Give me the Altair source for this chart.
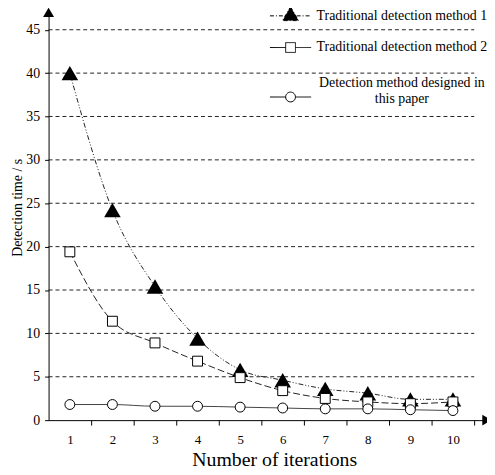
import altair as alt
import pandas as pd

iterations = [1, 2, 3, 4, 5, 6, 7, 8, 9, 10]
method1 = [40.0, 24.2, 15.4, 9.4, 5.8, 4.6, 3.6, 3.1, 2.4, 2.4]
method2 = [19.4, 11.4, 8.9, 6.8, 4.9, 3.4, 2.5, 2.1, 1.9, 2.1]
method3 = [1.8, 1.8, 1.6, 1.6, 1.5, 1.4, 1.3, 1.3, 1.2, 1.1]
names = ["Traditional detection method 1", "Traditional detection method 2",
         "Detection method designed in this paper"]
y_ticks = [0, 5, 10, 15, 20, 25, 30, 35, 40, 45]
grid_values = [5, 10, 15, 20, 25, 30, 35, 40, 45]
# x ticks sit between iterations; labels are shifted back onto the iterations
x_tick_values = [1.5, 2.5, 3.5, 4.5, 5.5, 6.5, 7.5, 8.5, 9.5, 10.5]
x_min, x_max = 0.5, 10.8
y_min, y_max = 0, 47
grid_start, grid_end = 0.5, 10.5

FONT = "Liberation Serif"
W, H = 443, 412
half_step_px = W / (x_max - x_min) / 2

df = pd.DataFrame({
    "it": iterations * 3,
    "t": method1 + method2 + method3,
    "series": [names[0]] * 10 + [names[1]] * 10 + [names[2]] * 10,
})
grid_df = pd.DataFrame({"g": grid_values, "x0": [grid_start] * len(grid_values),
                        "x1": [grid_end] * len(grid_values)})
yarrow_df = pd.DataFrame({"it": [x_min], "t": [y_max]})
xarrow_df = pd.DataFrame({"it": [x_max], "t": [y_min]})

xscale = alt.Scale(domain=[x_min, x_max], nice=False, zero=False)
yscale = alt.Scale(domain=[y_min, y_max], nice=False)

xaxis = alt.Axis(
    values=x_tick_values,
    labelExpr="format(datum.value - 0.5, 'd')",
    labelOffset=-half_step_px, labelFlush=False, labelOverlap=False,
    tickSize=5, tickWidth=1, tickColor="black", domainColor="black", domainWidth=1,
    labelFont=FONT, labelFontSize=13, labelColor="black", labelPadding=9,
    grid=False, title="Number of iterations", titleFont=FONT, titleFontSize=20,
    titleFontWeight="normal", titleColor="black", titleX=228, titleY=46,
    titleBaseline="alphabetic",
)
yaxis = alt.Axis(
    values=y_ticks, tickSize=4, tickColor="black", domainColor="black", domainWidth=1,
    labelFont=FONT, labelFontSize=14, labelColor="black", labelPadding=5,
    grid=False, title="Detection time / s", titleFont=FONT, titleFontSize=14,
    titleFontWeight="normal", titleColor="black", titleX=-24, titleY=197,
    titleBaseline="bottom",
)

X = lambda f="it": alt.X(f"{f}:Q", scale=xscale, axis=xaxis)
Y = lambda f="t": alt.Y(f"{f}:Q", scale=yscale, axis=yaxis)

grid = alt.Chart(grid_df).mark_rule(color="#222", strokeDash=[4, 3], strokeWidth=1).encode(
    x=X("x0"), x2="x1", y=Y("g"))

def series(i):
    return alt.Chart(df).transform_filter(alt.datum.series == names[i])

line1 = series(0).mark_line(interpolate="monotone", color="#222", strokeWidth=1,
                            strokeDash=[5, 2, 1, 2, 1, 2]).encode(x=X(), y=Y())
line2 = series(1).mark_line(interpolate="monotone", color="#222", strokeWidth=1,
                            strokeDash=[7, 3]).encode(x=X(), y=Y())
line3 = series(2).mark_line(interpolate="monotone", color="#444", strokeWidth=1).encode(x=X(), y=Y())

pts1 = series(0).mark_point(shape="triangle-up", filled=True, color="black", size=280,
                            opacity=1).encode(x=X(), y=Y())
pts2 = series(1).mark_point(shape="square", filled=True, fill="white", stroke="black",
                            strokeWidth=1, size=100, opacity=1).encode(x=X(), y=Y())
pts3 = series(2).mark_point(shape="circle", filled=True, fill="white", stroke="black",
                            strokeWidth=1, size=100, opacity=1).encode(x=X(), y=Y())

yarrow = alt.Chart(yarrow_df).mark_point(shape="triangle-up", filled=True, color="black",
                                         size=121, opacity=1, clip=False).encode(x=X(), y=Y())
xarrow = alt.Chart(xarrow_df).mark_point(shape="triangle-right", filled=True, color="black",
                                         size=121, opacity=1, clip=False).encode(x=X(), y=Y())

# legend symbols: line segment with marker (unit = 8 px at symbolSize 256)
tri_path = "M-2.6,0L2.6,0M0,-1.15L1.0,0.6L-1.0,0.6Z"
sq_path = "M-2.6,0L-0.62,0M0.62,0L2.6,0M-0.62,-0.62L0.62,-0.62L0.62,0.62L-0.62,0.62Z"
ci_path = ("M-2.6,0L-0.62,0M0.62,0L2.6,0M-0.62,0A0.62,0.62 0 1,0 0.62,0"
           "A0.62,0.62 0 1,0 -0.62,0Z")
empty_path = "M0,0"

LEG_X = 236
legA = alt.Legend(title=None, orient="none", legendX=LEG_X, legendY=-5)
legB = alt.Legend(title=None, orient="none", legendX=LEG_X, legendY=77, labelExpr="''")
legT = alt.Legend(title=None, orient="none", legendX=LEG_X, legendY=63,
                  labelExpr="['Detection method designed in', 'this paper']")

def legend_layer(dom, paths, fills, dashes, leg):
    return alt.Chart(df).transform_filter("false").mark_point(strokeWidth=1).encode(
        x=X(), y=Y(),
        shape=alt.Shape("series:N", scale=alt.Scale(domain=dom, range=paths), legend=leg),
        fill=alt.Fill("series:N", scale=alt.Scale(domain=dom, range=fills), legend=leg),
        stroke=alt.Stroke("series:N", scale=alt.Scale(domain=dom, range=["black"] * len(dom)), legend=leg),
        strokeDash=alt.StrokeDash("series:N", scale=alt.Scale(domain=dom, range=dashes), legend=leg),
    )

legend_a = legend_layer(names[:2], [tri_path, sq_path], ["black", "white"],
                        [[4, 2, 1, 2], [1, 0]], legA)
legend_b = legend_layer(names[2:], [ci_path], ["white"], [[1, 0]], legB)
legend_t = alt.Chart(df).transform_filter("false").mark_point().encode(
    x=X(), y=Y(),
    shape=alt.Shape("series:N", scale=alt.Scale(domain=names[2:], range=[empty_path]), legend=legT),
)

chart = alt.layer(grid, line1, line2, line3, pts1, pts2, pts3, yarrow, xarrow,
                  legend_a, legend_b, legend_t).resolve_scale(
    shape="independent", fill="independent", stroke="independent", strokeDash="independent"
).properties(
    width=W, height=H,
    autosize=alt.AutoSizeParams(type="none"),
    padding={"left": 41, "top": 2, "right": 0, "bottom": 53},
    background="white",
).configure_view(stroke=None).configure_legend(
    padding=0, symbolSize=256, symbolStrokeColor="black", symbolStrokeWidth=1, symbolOpacity=1,
    labelFont=FONT, labelFontSize=14, labelColor="black", labelAlign="center",
    labelOffset=104, labelLimit=400, rowPadding=16,
)

chart.save("out.html", embed_options={"renderer": "svg", "actions": False})
